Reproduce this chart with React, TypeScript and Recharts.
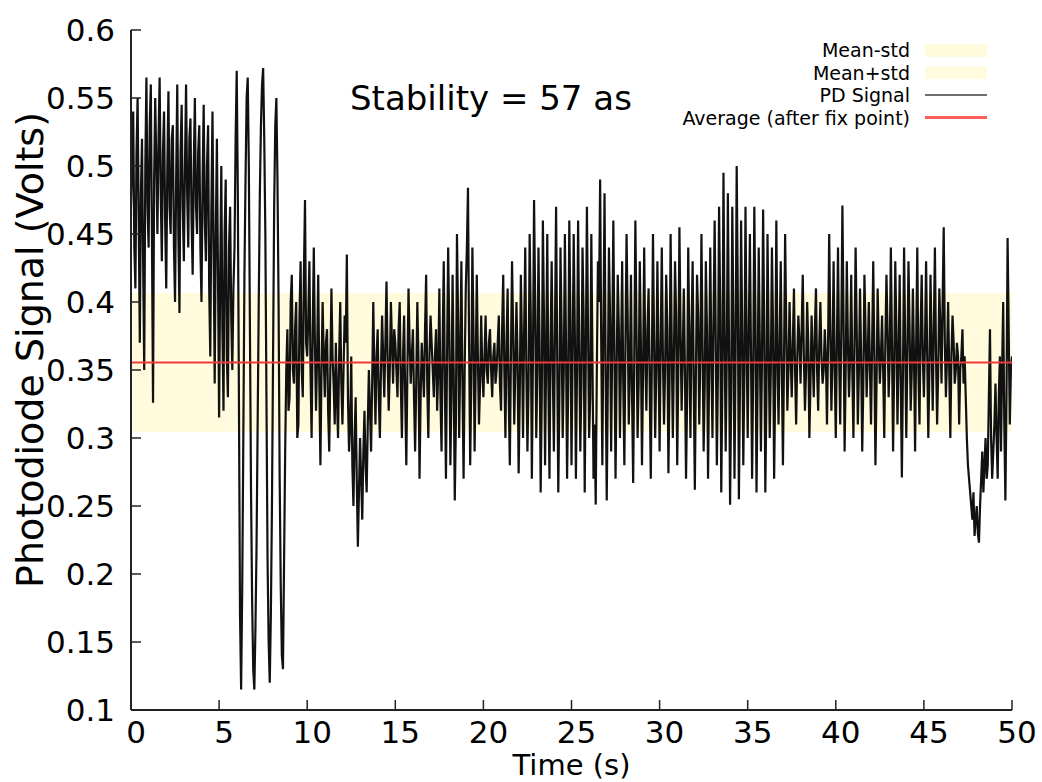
import React from "react";
import {
  ComposedChart,
  Line,
  XAxis,
  YAxis,
  ReferenceArea,
  ReferenceLine,
  Legend,
} from "recharts";

// photodiode signal, one reading every 0.0625 s in 5 s chunks
const TIME_STEP = 0.0625;
const SIGNAL_00_05 = [0.47, 0.50, 0.54, 0.44, 0.41, 0.51, 0.55, 0.46, 0.37, 0.48, 0.52, 0.43, 0.35, 0.50, 0.565, 0.47, 0.44, 0.53, 0.56, 0.45, 0.326, 0.49, 0.55, 0.50, 0.45, 0.52, 0.565, 0.48, 0.43, 0.51, 0.54, 0.46, 0.41, 0.50, 0.555, 0.47, 0.45, 0.52, 0.53, 0.44, 0.40, 0.49, 0.56, 0.45, 0.392, 0.51, 0.545, 0.47, 0.43, 0.50, 0.56, 0.48, 0.44, 0.52, 0.535, 0.46, 0.42, 0.50, 0.55, 0.47, 0.45, 0.51, 0.53, 0.44, 0.40, 0.49, 0.545, 0.46, 0.43, 0.50, 0.53, 0.41, 0.36, 0.47, 0.54, 0.44, 0.34, 0.45, 0.52, 0.42];
const SIGNAL_05_10 = [0.315, 0.42, 0.50, 0.38, 0.32, 0.45, 0.49, 0.36, 0.33, 0.44, 0.47, 0.39, 0.35, 0.41, 0.44, 0.52, 0.57, 0.48, 0.33, 0.17, 0.115, 0.19, 0.30, 0.42, 0.49, 0.55, 0.565, 0.50, 0.38, 0.26, 0.18, 0.13, 0.115, 0.16, 0.22, 0.31, 0.40, 0.48, 0.53, 0.56, 0.572, 0.52, 0.45, 0.33, 0.21, 0.15, 0.12, 0.17, 0.25, 0.36, 0.47, 0.53, 0.55, 0.49, 0.40, 0.27, 0.19, 0.14, 0.13, 0.21, 0.29, 0.35, 0.38, 0.32, 0.33, 0.40, 0.42, 0.35, 0.34, 0.38, 0.40, 0.30, 0.31, 0.39, 0.43, 0.35, 0.33, 0.42, 0.475, 0.37];
const SIGNAL_10_15 = [0.36, 0.39, 0.43, 0.35, 0.30, 0.38, 0.44, 0.37, 0.32, 0.36, 0.42, 0.34, 0.28, 0.35, 0.40, 0.36, 0.33, 0.37, 0.38, 0.32, 0.29, 0.35, 0.41, 0.36, 0.34, 0.31, 0.37, 0.33, 0.30, 0.36, 0.40, 0.34, 0.31, 0.35, 0.39, 0.37, 0.435, 0.33, 0.29, 0.31, 0.36, 0.28, 0.25, 0.30, 0.33, 0.27, 0.22, 0.26, 0.30, 0.27, 0.24, 0.29, 0.32, 0.28, 0.26, 0.31, 0.35, 0.32, 0.29, 0.34, 0.40, 0.35, 0.31, 0.36, 0.38, 0.33, 0.30, 0.35, 0.39, 0.36, 0.33, 0.37, 0.415, 0.36, 0.32, 0.35, 0.40, 0.37, 0.34, 0.38];
const SIGNAL_15_20 = [0.37, 0.35, 0.33, 0.38, 0.40, 0.34, 0.30, 0.36, 0.39, 0.33, 0.28, 0.35, 0.41, 0.37, 0.34, 0.36, 0.38, 0.33, 0.29, 0.34, 0.40, 0.36, 0.27, 0.33, 0.37, 0.35, 0.33, 0.38, 0.42, 0.34, 0.30, 0.36, 0.39, 0.37, 0.35, 0.33, 0.36, 0.38, 0.32, 0.35, 0.41, 0.33, 0.29, 0.37, 0.43, 0.34, 0.27, 0.36, 0.44, 0.38, 0.28, 0.33, 0.42, 0.35, 0.254, 0.31, 0.45, 0.39, 0.30, 0.36, 0.43, 0.34, 0.27, 0.35, 0.41, 0.44, 0.484, 0.37, 0.28, 0.34, 0.44, 0.38, 0.29, 0.35, 0.42, 0.36, 0.31, 0.34, 0.39, 0.35];
const SIGNAL_20_25 = [0.33, 0.36, 0.39, 0.35, 0.34, 0.37, 0.38, 0.35, 0.33, 0.36, 0.37, 0.34, 0.35, 0.37, 0.39, 0.34, 0.32, 0.38, 0.42, 0.35, 0.30, 0.37, 0.41, 0.33, 0.28, 0.36, 0.43, 0.38, 0.31, 0.35, 0.40, 0.36, 0.274, 0.33, 0.42, 0.37, 0.30, 0.38, 0.44, 0.35, 0.29, 0.34, 0.45, 0.39, 0.27, 0.36, 0.475, 0.40, 0.30, 0.35, 0.44, 0.37, 0.26, 0.33, 0.46, 0.39, 0.28, 0.36, 0.45, 0.34, 0.27, 0.37, 0.43, 0.35, 0.29, 0.38, 0.47, 0.36, 0.26, 0.33, 0.44, 0.38, 0.30, 0.35, 0.45, 0.37, 0.27, 0.34, 0.46, 0.39];
const SIGNAL_25_30 = [0.28, 0.36, 0.45, 0.38, 0.27, 0.35, 0.46, 0.37, 0.29, 0.34, 0.44, 0.39, 0.26, 0.36, 0.47, 0.38, 0.30, 0.33, 0.45, 0.36, 0.27, 0.31, 0.251, 0.35, 0.43, 0.40, 0.49, 0.37, 0.28, 0.38, 0.48, 0.35, 0.254, 0.34, 0.44, 0.39, 0.29, 0.37, 0.46, 0.36, 0.27, 0.35, 0.42, 0.38, 0.30, 0.36, 0.43, 0.34, 0.28, 0.37, 0.45, 0.39, 0.31, 0.35, 0.42, 0.33, 0.267, 0.36, 0.46, 0.38, 0.30, 0.34, 0.43, 0.37, 0.28, 0.35, 0.44, 0.36, 0.32, 0.38, 0.41, 0.34, 0.27, 0.36, 0.45, 0.37, 0.30, 0.35, 0.43, 0.36];
const SIGNAL_30_35 = [0.29, 0.37, 0.44, 0.36, 0.31, 0.35, 0.42, 0.38, 0.274, 0.34, 0.45, 0.37, 0.30, 0.36, 0.43, 0.39, 0.28, 0.35, 0.455, 0.38, 0.32, 0.36, 0.41, 0.35, 0.27, 0.33, 0.44, 0.37, 0.30, 0.38, 0.43, 0.34, 0.262, 0.35, 0.42, 0.39, 0.31, 0.36, 0.45, 0.37, 0.29, 0.34, 0.43, 0.38, 0.27, 0.35, 0.44, 0.36, 0.30, 0.39, 0.46, 0.37, 0.28, 0.35, 0.47, 0.40, 0.26, 0.34, 0.495, 0.38, 0.29, 0.36, 0.48, 0.37, 0.251, 0.33, 0.47, 0.39, 0.27, 0.36, 0.50, 0.41, 0.255, 0.34, 0.46, 0.38, 0.28, 0.35, 0.47, 0.37];
const SIGNAL_35_40 = [0.30, 0.38, 0.45, 0.36, 0.27, 0.35, 0.47, 0.39, 0.26, 0.34, 0.44, 0.37, 0.29, 0.36, 0.468, 0.38, 0.26, 0.33, 0.45, 0.37, 0.30, 0.35, 0.44, 0.38, 0.27, 0.34, 0.46, 0.36, 0.31, 0.37, 0.43, 0.35, 0.28, 0.36, 0.45, 0.38, 0.32, 0.35, 0.40, 0.36, 0.33, 0.37, 0.41, 0.35, 0.31, 0.36, 0.39, 0.37, 0.34, 0.38, 0.42, 0.36, 0.32, 0.35, 0.40, 0.37, 0.30, 0.34, 0.39, 0.36, 0.33, 0.38, 0.41, 0.35, 0.32, 0.37, 0.40, 0.36, 0.34, 0.35, 0.38, 0.36, 0.31, 0.37, 0.45, 0.38, 0.32, 0.36, 0.43, 0.35];
const SIGNAL_40_45 = [0.30, 0.37, 0.44, 0.36, 0.31, 0.38, 0.471, 0.39, 0.29, 0.35, 0.43, 0.37, 0.33, 0.36, 0.42, 0.35, 0.30, 0.37, 0.44, 0.38, 0.31, 0.35, 0.41, 0.36, 0.29, 0.34, 0.42, 0.38, 0.33, 0.36, 0.40, 0.35, 0.31, 0.37, 0.43, 0.36, 0.28, 0.34, 0.41, 0.37, 0.34, 0.36, 0.39, 0.35, 0.30, 0.37, 0.42, 0.38, 0.33, 0.36, 0.44, 0.37, 0.29, 0.35, 0.43, 0.38, 0.31, 0.36, 0.42, 0.34, 0.271, 0.35, 0.44, 0.37, 0.30, 0.36, 0.43, 0.38, 0.32, 0.35, 0.41, 0.36, 0.29, 0.37, 0.44, 0.35, 0.31, 0.38, 0.42, 0.36];
const SIGNAL_45_50 = [0.33, 0.37, 0.43, 0.36, 0.30, 0.35, 0.42, 0.37, 0.32, 0.38, 0.44, 0.36, 0.31, 0.35, 0.41, 0.38, 0.34, 0.40, 0.455, 0.37, 0.33, 0.36, 0.40, 0.35, 0.30, 0.36, 0.39, 0.37, 0.34, 0.35, 0.37, 0.36, 0.31, 0.35, 0.36, 0.38, 0.34, 0.36, 0.33, 0.30, 0.28, 0.27, 0.26, 0.25, 0.24, 0.26, 0.228, 0.24, 0.25, 0.23, 0.223, 0.25, 0.27, 0.29, 0.26, 0.28, 0.30, 0.27, 0.28, 0.33, 0.38, 0.30, 0.27, 0.29, 0.31, 0.34, 0.30, 0.27, 0.33, 0.36, 0.29, 0.35, 0.40, 0.31, 0.254, 0.33, 0.447, 0.38, 0.31, 0.35, 0.36];

const X_TICKS = [0, 5, 10, 15, 20, 25, 30, 35, 40, 45, 50];
const Y_TICKS = [0.1, 0.15, 0.2, 0.25, 0.3, 0.35, 0.4, 0.45, 0.5, 0.55, 0.6];

const MEAN = 0.3555;
const STD = 0.0511;
const STABILITY = "Stability = 57 as";

const FONT = "'DejaVu Sans', sans-serif";
const BAND = "#fffbdc";
const RED = "#f03a3a";
const AXIS = "#222";

const signal = [
  ...SIGNAL_00_05, ...SIGNAL_05_10, ...SIGNAL_10_15, ...SIGNAL_15_20, ...SIGNAL_20_25,
  ...SIGNAL_25_30, ...SIGNAL_30_35, ...SIGNAL_35_40, ...SIGNAL_40_45, ...SIGNAL_45_50,
];
const data = signal.map((v, i) => ({ t: i * TIME_STEP, v }));

const legendRows = [
  { name: "Mean-std", kind: "band", color: BAND },
  { name: "Mean+std", kind: "band", color: BAND },
  { name: "PD Signal", kind: "line", color: "#6e6e6e" },
  { name: "Average (after fix point)", kind: "line", color: "#ff5c5c" },
];

function KeyBox() {
  return (
    <div style={{ fontFamily: FONT, fontSize: 19, color: "#000" }}>
      {legendRows.map((r) => (
        <div
          key={r.name}
          style={{ display: "flex", justifyContent: "flex-end", alignItems: "center", height: 22.5 }}
        >
          <span style={{ whiteSpace: "nowrap" }}>{r.name}</span>
          <div
            style={{
              width: 62,
              marginLeft: 15,
              height: r.kind === "band" ? 13 : 2.5,
              background: r.color,
            }}
          />
        </div>
      ))}
    </div>
  );
}

function YTitle(props: any) {
  const vb = props.viewBox;
  const cx = vb.x + 30;
  const cy = vb.y + vb.height / 2 - 20;
  return (
    <text
      x={cx}
      y={cy}
      transform={`rotate(-90 ${cx} ${cy})`}
      textAnchor="middle"
      dominantBaseline="central"
      fontSize={38}
      fontFamily={FONT}
      fill="#000"
    >
      Photodiode Signal (Volts)
    </text>
  );
}

export default function App() {
  const tickFont = { fontSize: 31, fill: "#000", fontFamily: FONT };
  return (
    <div style={{ position: "absolute", left: 0, top: 0, width: 1042, height: 782, background: "#fff" }}>
      <ComposedChart
        width={1042}
        height={782}
        data={data}
        margin={{ top: 30, right: 30, left: 0, bottom: 0 }}
        style={{ fontFamily: FONT }}
      >
        <XAxis
          dataKey="t"
          type="number"
          domain={[0, 50]}
          ticks={X_TICKS}
          interval={0}
          allowDataOverflow
          height={72}
          tickSize={-10}
          tickMargin={21}
          axisLine={{ stroke: AXIS, strokeWidth: 2 }}
          tickLine={{ stroke: AXIS, strokeWidth: 1.5 }}
          tick={{ ...tickFont, dx: 5 }}
          label={{ value: "Time (s)", position: "insideBottom", offset: 7, fontSize: 29, fill: "#000", fontFamily: FONT }}
        />
        <XAxis
          xAxisId="top"
          orientation="top"
          type="number"
          domain={[0, 50]}
          ticks={X_TICKS}
          interval={0}
          allowDataOverflow
          height={0}
          tick={false}
          tickSize={-10}
          axisLine={{ stroke: AXIS, strokeWidth: 2 }}
          tickLine={{ stroke: AXIS, strokeWidth: 1.5 }}
        />
        <YAxis
          type="number"
          domain={[0.1, 0.6]}
          ticks={Y_TICKS}
          interval={0}
          allowDataOverflow
          width={131}
          tickSize={-10}
          tickMargin={26}
          axisLine={{ stroke: AXIS, strokeWidth: 2 }}
          tickLine={{ stroke: AXIS, strokeWidth: 1.5 }}
          tick={tickFont}
          label={{ content: YTitle }}
        />
        <YAxis
          yAxisId="right"
          orientation="right"
          type="number"
          domain={[0.1, 0.6]}
          ticks={Y_TICKS}
          interval={0}
          allowDataOverflow
          width={0}
          tick={false}
          tickSize={-10}
          axisLine={{ stroke: AXIS, strokeWidth: 2 }}
          tickLine={{ stroke: AXIS, strokeWidth: 1.5 }}
        />
        <ReferenceArea y1={MEAN - STD} y2={MEAN + STD} fill={BAND} fillOpacity={1} stroke="none" />
        <Line
          dataKey="v"
          type="linear"
          stroke="#111"
          strokeWidth={2.2}
          dot={false}
          activeDot={false}
          isAnimationActive={false}
        />
        <ReferenceLine y={MEAN} stroke={RED} strokeWidth={2} />
        <Legend
          layout="vertical"
          align="center"
          verticalAlign="middle"
          content={() => <KeyBox />}
          wrapperStyle={{ top: 38.75, left: 647, width: 340 }}
        />
      </ComposedChart>
      <div
        style={{
          position: "absolute",
          left: 350,
          top: 81,
          fontFamily: FONT,
          fontSize: 34,
          lineHeight: "34px",
          color: "#000",
          whiteSpace: "nowrap",
        }}
      >
        {STABILITY}
      </div>
    </div>
  );
}
